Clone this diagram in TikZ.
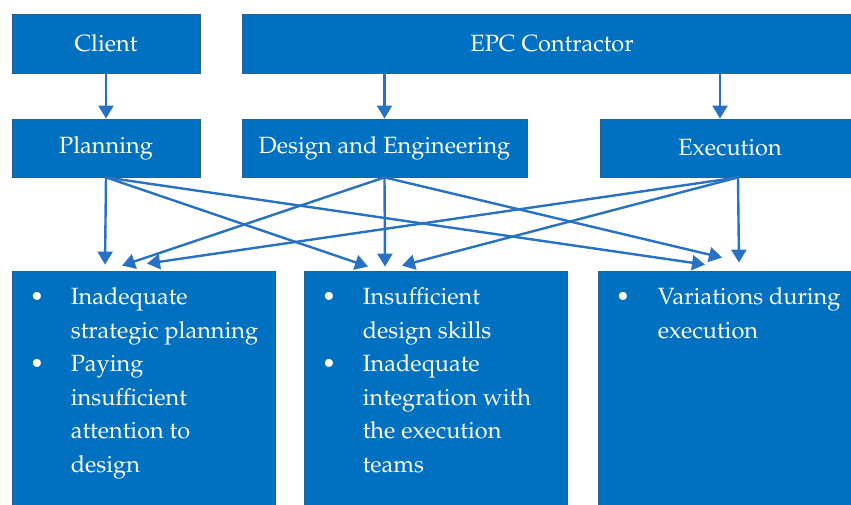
\documentclass[tikz,border=0pt]{standalone}
\usepackage[T1]{fontenc}
\usepackage{mathpazo}
\usetikzlibrary{arrows.meta}
\definecolor{boxblue}{HTML}{0070C0}
\definecolor{boxline}{HTML}{2E5E8E}
\definecolor{arrblue}{HTML}{2872C6}
\begin{document}
\begin{tikzpicture}[x=1pt,y=-1pt,
  box/.style={draw=boxline, line width=0.8pt, fill=boxblue, text=white, inner sep=0pt,
              font=\fontsize{23.5}{28}\selectfont},
  listtext/.style={text=white, inner sep=0pt, font=\fontsize{23.5}{33.5}\selectfont},
  arr/.style={draw=arrblue, line width=2.4pt, -{Triangle[width=15pt,length=13pt]}}]
\useasboundingbox (0,0) rectangle (851,505);
% top row
\node[box, minimum width=188pt, minimum height=59pt] (client) at (106,43.5) {Client};
\node[box, minimum width=620pt, minimum height=59pt] (epc) at (552,43.5) {EPC Contractor};
% second row
\node[box, minimum width=188pt, minimum height=58pt] (planning) at (106,148) {Planning};
\node[box, minimum width=285pt, minimum height=58pt] (design) at (384.5,148) {Design and Engineering};
\node[box, minimum width=260pt, minimum height=58pt] (execution) at (730,148) {Execution};
% bottom row
\node[box, minimum width=263pt, minimum height=249pt] (b1) at (143.5,395.5) {};
\node[box, minimum width=263pt, minimum height=249pt] (b2) at (435.5,395.5) {};
\node[box, minimum width=262pt, minimum height=249pt] (b3) at (729,395.5) {};
\node[listtext, anchor=base west] (t1) at ([xshift=18pt,yshift=-34pt]b1.north west)
  {\begin{tabular}[t]{@{}p{41pt}@{}l@{}}\textbullet & Inadequate\\ & strategic planning\\ \textbullet & Paying\\ & insufficient\\ & attention to\\ & design\end{tabular}};
\node[listtext, anchor=base west] (t2) at ([xshift=18pt,yshift=-34pt]b2.north west)
  {\begin{tabular}[t]{@{}p{41pt}@{}l@{}}\textbullet & Insufficient\\ & design skills\\ \textbullet & Inadequate\\ & integration with\\ & the execution\\ & teams\end{tabular}};
\node[listtext, anchor=base west] (t3) at ([xshift=18pt,yshift=-34pt]b3.north west)
  {\begin{tabular}[t]{@{}p{42pt}@{}l@{}}\textbullet & Variations during\\ & execution\end{tabular}};
% vertical arrows from top row
\draw[arr] (client) -- (planning);
\draw[arr] (design |- epc.south) -- (design);
\draw[arr] ([xshift=-10pt]execution.north |- epc.south) -- ([xshift=-10pt]execution.north);
% sources
\coordinate (ps) at (planning.south);
\coordinate (ds) at (design.south);
\coordinate (es) at ([xshift=8pt]execution.south);
% targets
\coordinate (b1p) at ([xshift=-38.5pt,yshift=6pt]b1.north);
\coordinate (b1d) at ([xshift=-21.5pt,yshift=5pt]b1.north);
\coordinate (b1e) at ([xshift=3.5pt,yshift=7pt]b1.north);
\coordinate (b2p) at ([xshift=-67.5pt,yshift=4pt]b2.north);
\coordinate (b2d) at ([xshift=-50.5pt,yshift=4pt]b2.north);
\coordinate (b2e) at ([xshift=-33.5pt,yshift=5pt]b2.north);
\coordinate (b3p) at ([xshift=-24pt,yshift=6pt]b3.north);
\coordinate (b3d) at ([xshift=-7pt,yshift=13pt]b3.north);
\coordinate (b3e) at ([xshift=10pt,yshift=8pt]b3.north);
% cross arrows
\draw[arr] (ps) -- (b1p);
\draw[arr] (ps) -- (b2p);
\draw[arr] (ps) -- (b3p);
\draw[arr] (ds) -- (b1d);
\draw[arr] (ds) -- (b2d);
\draw[arr] (ds) -- (b3d);
\draw[arr] (es) -- (b1e);
\draw[arr] (es) -- (b2e);
\draw[arr] (es) -- (b3e);
\end{tikzpicture}
\end{document}
